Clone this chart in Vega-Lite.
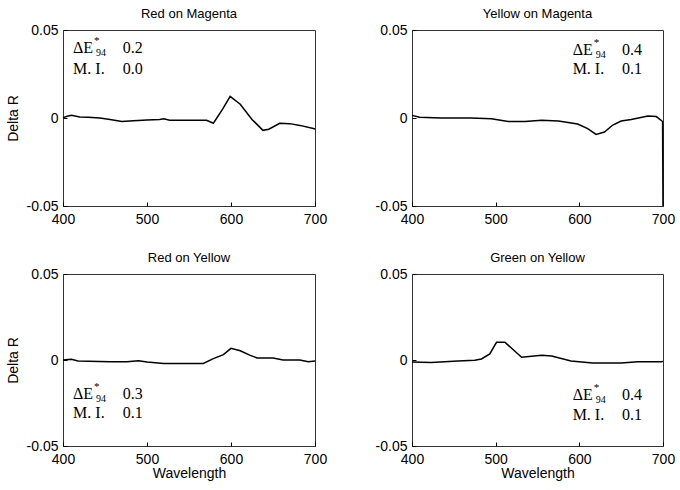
{
  "$schema": "https://vega.github.io/schema/vega-lite/v6.json",
  "padding": {"left": 5, "top": 7, "right": 5, "bottom": 3},
  "background": "white",
  "datasets": {
    "curves": [
      {"panel": "RM", "wavelength": 400, "delta": 0.0002},
      {"panel": "RM", "wavelength": 405, "delta": 0.001},
      {"panel": "RM", "wavelength": 410, "delta": 0.0015},
      {"panel": "RM", "wavelength": 420, "delta": 0.0006},
      {"panel": "RM", "wavelength": 430, "delta": 0.0004},
      {"panel": "RM", "wavelength": 444, "delta": 0.0},
      {"panel": "RM", "wavelength": 456, "delta": -0.0008},
      {"panel": "RM", "wavelength": 470, "delta": -0.002},
      {"panel": "RM", "wavelength": 484, "delta": -0.0015},
      {"panel": "RM", "wavelength": 500, "delta": -0.0011},
      {"panel": "RM", "wavelength": 515, "delta": -0.0008},
      {"panel": "RM", "wavelength": 520, "delta": -0.0004},
      {"panel": "RM", "wavelength": 527, "delta": -0.0013},
      {"panel": "RM", "wavelength": 550, "delta": -0.0013},
      {"panel": "RM", "wavelength": 571, "delta": -0.0013},
      {"panel": "RM", "wavelength": 579, "delta": -0.003},
      {"panel": "RM", "wavelength": 590, "delta": 0.005},
      {"panel": "RM", "wavelength": 599, "delta": 0.0123},
      {"panel": "RM", "wavelength": 611, "delta": 0.0078},
      {"panel": "RM", "wavelength": 625, "delta": -0.0008},
      {"panel": "RM", "wavelength": 638, "delta": -0.007},
      {"panel": "RM", "wavelength": 645, "delta": -0.0064},
      {"panel": "RM", "wavelength": 658, "delta": -0.003},
      {"panel": "RM", "wavelength": 670, "delta": -0.0032},
      {"panel": "RM", "wavelength": 682, "delta": -0.0042},
      {"panel": "RM", "wavelength": 698, "delta": -0.006},
      {"panel": "RM", "wavelength": 700, "delta": -0.0063},

      {"panel": "YM", "wavelength": 400, "delta": 0.0015},
      {"panel": "YM", "wavelength": 409, "delta": 0.0004},
      {"panel": "YM", "wavelength": 435, "delta": 0.0},
      {"panel": "YM", "wavelength": 470, "delta": 0.0},
      {"panel": "YM", "wavelength": 495, "delta": -0.0004},
      {"panel": "YM", "wavelength": 515, "delta": -0.002},
      {"panel": "YM", "wavelength": 535, "delta": -0.002},
      {"panel": "YM", "wavelength": 555, "delta": -0.0013},
      {"panel": "YM", "wavelength": 575, "delta": -0.0017},
      {"panel": "YM", "wavelength": 598, "delta": -0.0034},
      {"panel": "YM", "wavelength": 610, "delta": -0.006},
      {"panel": "YM", "wavelength": 620, "delta": -0.0093},
      {"panel": "YM", "wavelength": 630, "delta": -0.008},
      {"panel": "YM", "wavelength": 640, "delta": -0.004},
      {"panel": "YM", "wavelength": 650, "delta": -0.0017},
      {"panel": "YM", "wavelength": 662, "delta": -0.0008},
      {"panel": "YM", "wavelength": 682, "delta": 0.0011},
      {"panel": "YM", "wavelength": 692, "delta": 0.0008},
      {"panel": "YM", "wavelength": 699.5, "delta": -0.002},
      {"panel": "YM", "wavelength": 700, "delta": -0.05},

      {"panel": "RY", "wavelength": 400, "delta": 0.0},
      {"panel": "RY", "wavelength": 410, "delta": 0.0004},
      {"panel": "RY", "wavelength": 418, "delta": -0.0006},
      {"panel": "RY", "wavelength": 456, "delta": -0.001},
      {"panel": "RY", "wavelength": 476, "delta": -0.001},
      {"panel": "RY", "wavelength": 490, "delta": -0.0004},
      {"panel": "RY", "wavelength": 500, "delta": -0.0012},
      {"panel": "RY", "wavelength": 520, "delta": -0.002},
      {"panel": "RY", "wavelength": 567, "delta": -0.002},
      {"panel": "RY", "wavelength": 579, "delta": 0.0008},
      {"panel": "RY", "wavelength": 591, "delta": 0.0031},
      {"panel": "RY", "wavelength": 600, "delta": 0.0068},
      {"panel": "RY", "wavelength": 611, "delta": 0.0054},
      {"panel": "RY", "wavelength": 623, "delta": 0.0027},
      {"panel": "RY", "wavelength": 631, "delta": 0.0012},
      {"panel": "RY", "wavelength": 650, "delta": 0.0012},
      {"panel": "RY", "wavelength": 662, "delta": 0.0},
      {"panel": "RY", "wavelength": 682, "delta": 0.0},
      {"panel": "RY", "wavelength": 692, "delta": -0.001},
      {"panel": "RY", "wavelength": 700, "delta": -0.0006},

      {"panel": "GY", "wavelength": 400, "delta": -0.0012},
      {"panel": "GY", "wavelength": 423, "delta": -0.0014},
      {"panel": "GY", "wavelength": 455, "delta": -0.0006},
      {"panel": "GY", "wavelength": 475, "delta": -0.0002},
      {"panel": "GY", "wavelength": 483, "delta": 0.0006},
      {"panel": "GY", "wavelength": 493, "delta": 0.0035},
      {"panel": "GY", "wavelength": 501, "delta": 0.0103},
      {"panel": "GY", "wavelength": 511, "delta": 0.0103},
      {"panel": "GY", "wavelength": 531, "delta": 0.0016},
      {"panel": "GY", "wavelength": 555, "delta": 0.0027},
      {"panel": "GY", "wavelength": 567, "delta": 0.0023},
      {"panel": "GY", "wavelength": 590, "delta": -0.0006},
      {"panel": "GY", "wavelength": 616, "delta": -0.0017},
      {"panel": "GY", "wavelength": 650, "delta": -0.0017},
      {"panel": "GY", "wavelength": 670, "delta": -0.001},
      {"panel": "GY", "wavelength": 698, "delta": -0.001},
      {"panel": "GY", "wavelength": 700, "delta": -0.0008}
    ],
    "notes": [
      {"panel": "RM", "wavelength": 412, "delta": 0.0395, "kind": "main", "label": "ΔE"},
      {"panel": "RM", "wavelength": 412, "delta": 0.0395, "kind": "sup", "label": "*"},
      {"panel": "RM", "wavelength": 412, "delta": 0.0395, "kind": "sub", "label": "94"},
      {"panel": "RM", "wavelength": 471, "delta": 0.0395, "kind": "main", "label": "0.2"},
      {"panel": "RM", "wavelength": 412, "delta": 0.028, "kind": "main", "label": "M. I."},
      {"panel": "RM", "wavelength": 471, "delta": 0.028, "kind": "main", "label": "0.0"},

      {"panel": "YM", "wavelength": 592, "delta": 0.0385, "kind": "main", "label": "ΔE"},
      {"panel": "YM", "wavelength": 592, "delta": 0.0385, "kind": "sup", "label": "*"},
      {"panel": "YM", "wavelength": 592, "delta": 0.0385, "kind": "sub", "label": "94"},
      {"panel": "YM", "wavelength": 651, "delta": 0.0385, "kind": "main", "label": "0.4"},
      {"panel": "YM", "wavelength": 592, "delta": 0.028, "kind": "main", "label": "M. I."},
      {"panel": "YM", "wavelength": 651, "delta": 0.028, "kind": "main", "label": "0.1"},

      {"panel": "RY", "wavelength": 412, "delta": -0.02, "kind": "main", "label": "ΔE"},
      {"panel": "RY", "wavelength": 412, "delta": -0.02, "kind": "sup", "label": "*"},
      {"panel": "RY", "wavelength": 412, "delta": -0.02, "kind": "sub", "label": "94"},
      {"panel": "RY", "wavelength": 471, "delta": -0.02, "kind": "main", "label": "0.3"},
      {"panel": "RY", "wavelength": 412, "delta": -0.031, "kind": "main", "label": "M. I."},
      {"panel": "RY", "wavelength": 471, "delta": -0.031, "kind": "main", "label": "0.1"},

      {"panel": "GY", "wavelength": 592, "delta": -0.0205, "kind": "main", "label": "ΔE"},
      {"panel": "GY", "wavelength": 592, "delta": -0.0205, "kind": "sup", "label": "*"},
      {"panel": "GY", "wavelength": 592, "delta": -0.0205, "kind": "sub", "label": "94"},
      {"panel": "GY", "wavelength": 651, "delta": -0.0205, "kind": "main", "label": "0.4"},
      {"panel": "GY", "wavelength": 592, "delta": -0.032, "kind": "main", "label": "M. I."},
      {"panel": "GY", "wavelength": 651, "delta": -0.032, "kind": "main", "label": "0.1"}
    ]
  },
  "columns": 2,
  "spacing": {"row": 68, "column": 97},
  "bounds": "flush",
  "concat": [
    {
      "title": "Red on Magenta",
      "width": 252, "height": 176,
      "encoding": {
        "x": {"field": "wavelength", "type": "quantitative", "scale": {"domain": [400, 700], "nice": false},
              "axis": {"title": null, "values": [400, 500, 600, 700]}},
        "y": {"field": "delta", "type": "quantitative", "scale": {"domain": [-0.05, 0.05], "nice": false, "zero": false},
              "axis": {"title": "Delta R", "values": [-0.05, 0, 0.05]}}
      },
      "layer": [
        {"data": {"name": "curves"}, "transform": [{"filter": "datum.panel === 'RM'"}],
         "mark": {"type": "line", "color": "black", "strokeWidth": 1.5}},
        {"data": {"name": "notes"}, "transform": [{"filter": "datum.panel === 'RM' && datum.kind === 'main'"}],
         "mark": {"type": "text"}, "encoding": {"text": {"field": "label"}}},
        {"data": {"name": "notes"}, "transform": [{"filter": "datum.panel === 'RM' && datum.kind === 'sup'"}],
         "mark": {"type": "text", "fontSize": 11, "dx": 21, "dy": -7}, "encoding": {"text": {"field": "label"}}},
        {"data": {"name": "notes"}, "transform": [{"filter": "datum.panel === 'RM' && datum.kind === 'sub'"}],
         "mark": {"type": "text", "fontSize": 10, "dx": 23, "dy": 5}, "encoding": {"text": {"field": "label"}}}
      ]
    },
    {
      "title": "Yellow on Magenta",
      "width": 251, "height": 176,
      "encoding": {
        "x": {"field": "wavelength", "type": "quantitative", "scale": {"domain": [400, 700], "nice": false},
              "axis": {"title": null, "values": [400, 500, 600, 700]}},
        "y": {"field": "delta", "type": "quantitative", "scale": {"domain": [-0.05, 0.05], "nice": false, "zero": false},
              "axis": {"title": null, "values": [-0.05, 0, 0.05]}}
      },
      "layer": [
        {"data": {"name": "curves"}, "transform": [{"filter": "datum.panel === 'YM'"}],
         "mark": {"type": "line", "color": "black", "strokeWidth": 1.5}},
        {"data": {"name": "notes"}, "transform": [{"filter": "datum.panel === 'YM' && datum.kind === 'main'"}],
         "mark": {"type": "text"}, "encoding": {"text": {"field": "label"}}},
        {"data": {"name": "notes"}, "transform": [{"filter": "datum.panel === 'YM' && datum.kind === 'sup'"}],
         "mark": {"type": "text", "fontSize": 11, "dx": 21, "dy": -7}, "encoding": {"text": {"field": "label"}}},
        {"data": {"name": "notes"}, "transform": [{"filter": "datum.panel === 'YM' && datum.kind === 'sub'"}],
         "mark": {"type": "text", "fontSize": 10, "dx": 23, "dy": 5}, "encoding": {"text": {"field": "label"}}}
      ]
    },
    {
      "title": "Red on Yellow",
      "width": 252, "height": 172,
      "encoding": {
        "x": {"field": "wavelength", "type": "quantitative", "scale": {"domain": [400, 700], "nice": false},
              "axis": {"title": "Wavelength", "values": [400, 500, 600, 700]}},
        "y": {"field": "delta", "type": "quantitative", "scale": {"domain": [-0.05, 0.05], "nice": false, "zero": false},
              "axis": {"title": "Delta R", "values": [-0.05, 0, 0.05]}}
      },
      "layer": [
        {"data": {"name": "curves"}, "transform": [{"filter": "datum.panel === 'RY'"}],
         "mark": {"type": "line", "color": "black", "strokeWidth": 1.5}},
        {"data": {"name": "notes"}, "transform": [{"filter": "datum.panel === 'RY' && datum.kind === 'main'"}],
         "mark": {"type": "text"}, "encoding": {"text": {"field": "label"}}},
        {"data": {"name": "notes"}, "transform": [{"filter": "datum.panel === 'RY' && datum.kind === 'sup'"}],
         "mark": {"type": "text", "fontSize": 11, "dx": 21, "dy": -7}, "encoding": {"text": {"field": "label"}}},
        {"data": {"name": "notes"}, "transform": [{"filter": "datum.panel === 'RY' && datum.kind === 'sub'"}],
         "mark": {"type": "text", "fontSize": 10, "dx": 23, "dy": 5}, "encoding": {"text": {"field": "label"}}}
      ]
    },
    {
      "title": "Green on Yellow",
      "width": 251, "height": 172,
      "encoding": {
        "x": {"field": "wavelength", "type": "quantitative", "scale": {"domain": [400, 700], "nice": false},
              "axis": {"title": "Wavelength", "values": [400, 500, 600, 700]}},
        "y": {"field": "delta", "type": "quantitative", "scale": {"domain": [-0.05, 0.05], "nice": false, "zero": false},
              "axis": {"title": null, "values": [-0.05, 0, 0.05]}}
      },
      "layer": [
        {"data": {"name": "curves"}, "transform": [{"filter": "datum.panel === 'GY'"}],
         "mark": {"type": "line", "color": "black", "strokeWidth": 1.5}},
        {"data": {"name": "notes"}, "transform": [{"filter": "datum.panel === 'GY' && datum.kind === 'main'"}],
         "mark": {"type": "text"}, "encoding": {"text": {"field": "label"}}},
        {"data": {"name": "notes"}, "transform": [{"filter": "datum.panel === 'GY' && datum.kind === 'sup'"}],
         "mark": {"type": "text", "fontSize": 11, "dx": 21, "dy": -7}, "encoding": {"text": {"field": "label"}}},
        {"data": {"name": "notes"}, "transform": [{"filter": "datum.panel === 'GY' && datum.kind === 'sub'"}],
         "mark": {"type": "text", "fontSize": 10, "dx": 23, "dy": 5}, "encoding": {"text": {"field": "label"}}}
      ]
    }
  ],
  "config": {
    "view": {"stroke": "#333333", "strokeWidth": 1},
    "title": {"font": "Liberation Sans", "fontSize": 13, "fontWeight": "normal", "color": "black", "offset": 2},
    "text": {"font": "Liberation Serif", "fontSize": 16, "color": "black", "align": "left", "baseline": "middle"},
    "axis": {
      "labelFont": "Liberation Sans", "labelFontSize": 14, "labelColor": "black",
      "titleFont": "Liberation Sans", "titleFontSize": 14, "titleFontWeight": "normal", "titleColor": "black",
      "grid": false, "domain": false, "tickColor": "black", "tickSize": -4, "labelFlush": false, "labelOverlap": false
    },
    "axisX": {"labelPadding": 10, "titlePadding": 0},
    "axisY": {"labelPadding": 9, "titlePadding": 6,
      "labelExpr": "datum.value === 0 ? '0' : (datum.value > 0 ? '0.05' : '-0.05')"}
  }
}
